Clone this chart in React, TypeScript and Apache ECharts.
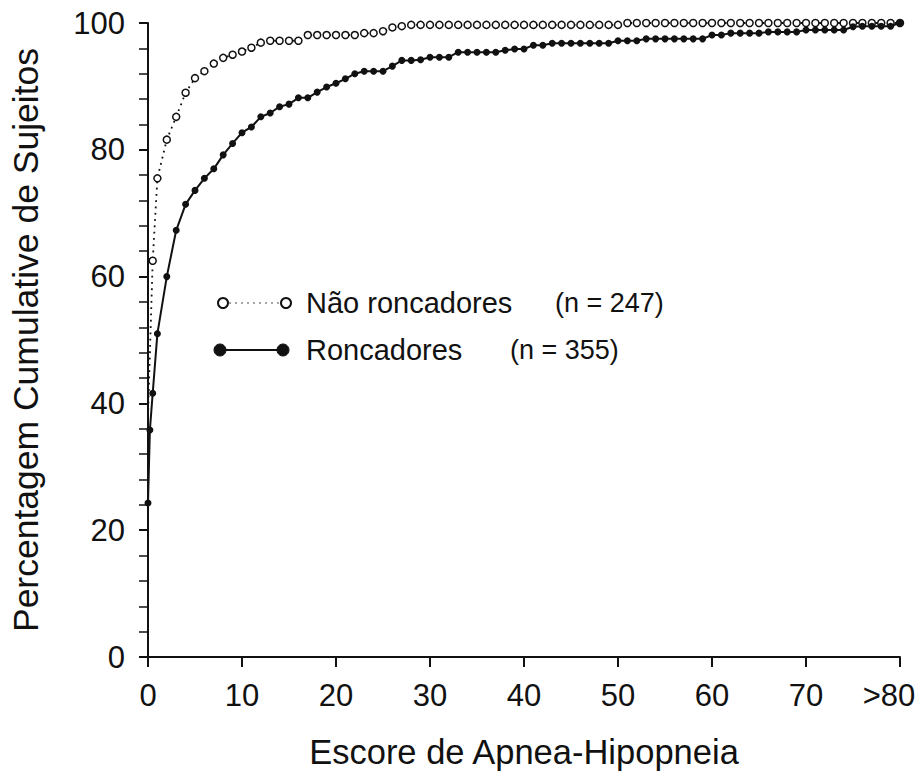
import React, { useEffect, useRef } from "react";
import * as echarts from "echarts";

// Escore de Apnea-Hipopneia (x) and cumulative percentage (y)
const naoRoncadoresX = [
  0, 0.5, 1, 2, 3, 4, 5, 6, 7, 8, 9, 10, 11, 12, 13, 14, 15, 16, 17, 18, 19, 20,
  21, 22, 23, 24, 25, 26, 27, 28, 29, 30, 31, 32, 33, 34, 35, 36, 37, 38, 39, 40,
  41, 42, 43, 44, 45, 46, 47, 48, 49, 50, 51, 52, 53, 54, 55, 56, 57, 58, 59, 60,
  61, 62, 63, 64, 65, 66, 67, 68, 69, 70, 71, 72, 73, 74, 75, 76, 77, 78, 79, 80,
];
const naoRoncadoresY = [
  38, 62.5, 75.5, 81.6, 85.2, 89, 91.3, 92.4, 93.6, 94.5, 95, 95.5, 96.1, 96.9, 97.2, 97.2, 97.2, 97.2, 98.1, 98.1, 98.1, 98.1,
  98.1, 98.1, 98.4, 98.4, 98.7, 99.3, 99.5, 99.7, 99.7, 99.7, 99.7, 99.7, 99.7, 99.7, 99.7, 99.7, 99.7, 99.7, 99.7, 99.7,
  99.7, 99.7, 99.7, 99.7, 99.7, 99.7, 99.7, 99.7, 99.7, 99.7, 100, 100, 100, 100, 100, 100, 100, 100, 100, 100,
  100, 100, 100, 100, 100, 100, 100, 100, 100, 100, 100, 100, 100, 100, 100, 100, 100, 100, 100, 100,
];

const roncadoresX = [
  0, 0.2, 0.5, 1, 2, 3, 4, 5, 6, 7, 8, 9, 10, 11, 12, 13, 14, 15, 16, 17, 18, 19, 20,
  21, 22, 23, 24, 25, 26, 27, 28, 29, 30, 31, 32, 33, 34, 35, 36, 37, 38, 39, 40,
  41, 42, 43, 44, 45, 46, 47, 48, 49, 50, 51, 52, 53, 54, 55, 56, 57, 58, 59, 60,
  61, 62, 63, 64, 65, 66, 67, 68, 69, 70, 71, 72, 73, 74, 75, 76, 77, 78, 79, 80,
];
const roncadoresY = [
  24.3, 35.8, 41.6, 51, 60, 67.3, 71.4, 73.6, 75.5, 77, 79.2, 81, 82.7, 83.6, 85.2, 85.8, 86.8, 87.2, 88.2, 88.2, 89.1, 89.9, 90.5,
  91.2, 92, 92.4, 92.4, 92.4, 93.2, 94.1, 94.1, 94.2, 94.6, 94.6, 94.6, 95.4, 95.4, 95.4, 95.4, 95.4, 95.7, 95.9, 95.9,
  96.5, 96.5, 96.8, 96.8, 96.8, 96.8, 96.8, 96.8, 96.8, 97.2, 97.2, 97.2, 97.5, 97.5, 97.5, 97.5, 97.5, 97.5, 97.5, 98.1,
  98.1, 98.4, 98.4, 98.4, 98.4, 98.6, 98.6, 98.6, 98.6, 98.9, 98.9, 98.9, 98.9, 98.9, 99.4, 99.5, 99.5, 99.5, 99.5, 100,
];

const xTicks = [0, 10, 20, 30, 40, 50, 60, 70, 80];
const xTickLabels = ["0", "10", "20", "30", "40", "50", "60", "70", ">80"];
const yTicks = [0, 20, 40, 60, 80, 100];

const seriesNames = ["Não roncadores", "Roncadores"];
const seriesN = ["(n = 247)", "(n = 355)"];

const FONT = "'Liberation Sans', Arial, Helvetica, sans-serif";
const INK = "#111";

export default function App() {
  const ref = useRef<HTMLDivElement>(null);

  useEffect(() => {
    if (!ref.current) return;
    document.body.style.margin = "0";
    const chart = echarts.init(ref.current, undefined, { renderer: "svg" });

    const openData = naoRoncadoresX.map((x, i) =>
      i === 0
        ? { value: [x, naoRoncadoresY[i]], symbol: "none" }
        : { value: [x, naoRoncadoresY[i]] }
    );
    const closedData = roncadoresX.map((x, i) => [x, roncadoresY[i]]);

    const labelFor = (v: number) => {
      const idx = xTicks.indexOf(v);
      if (idx < 0) return "";
      const t = xTickLabels[idx];
      return t.startsWith(">") ? "{gt|" + t + "}" : t;
    };

    chart.setOption({
      animation: false,
      backgroundColor: "#fff",
      grid: { left: 148, right: 22, top: 23, bottom: 121, containLabel: false },
      xAxis: {
        type: "value",
        min: 0,
        max: 80,
        interval: 10,
        name: "Escore de Apnea-Hipopneia",
        nameLocation: "middle",
        nameGap: 77,
        nameTextStyle: { fontFamily: FONT, fontSize: 34.5, color: INK },
        axisLine: { show: true, lineStyle: { color: INK, width: 2 } },
        axisTick: { show: true, inside: false, length: 10, lineStyle: { color: INK, width: 2 } },
        splitLine: { show: false },
        axisLabel: {
          margin: 23,
          fontFamily: FONT,
          fontSize: 31,
          color: INK,
          formatter: (v: number) => labelFor(v),
          rich: {
            gt: { fontFamily: FONT, fontSize: 31, color: INK, padding: [0, 22, 0, 0] },
          },
        },
      },
      yAxis: {
        type: "value",
        min: 0,
        max: 100,
        interval: 20,
        name: "Percentagem Cumulative de Sujeitos",
        nameLocation: "middle",
        nameGap: 104,
        nameTextStyle: { fontFamily: FONT, fontSize: 35.5, color: INK },
        axisLine: { show: true, lineStyle: { color: INK, width: 2 } },
        axisTick: { show: true, inside: false, length: 9, lineStyle: { color: INK, width: 2 } },
        minorTick: { show: true, splitNumber: 5, length: 9, lineStyle: { color: INK, width: 1.5 } },
        splitLine: { show: false },
        minorSplitLine: { show: false },
        axisLabel: {
          margin: 23,
          fontFamily: FONT,
          fontSize: 31,
          color: INK,
          formatter: (v: number) => (yTicks.indexOf(v) >= 0 ? String(v) : ""),
        },
      },
      series: [
        {
          name: seriesNames[0],
          type: "line",
          data: openData,
          symbol: "circle",
          symbolSize: 7,
          showAllSymbol: true,
          itemStyle: { color: "#fff", borderColor: INK, borderWidth: 1.5 },
          lineStyle: { color: INK, width: 1.8, type: [1.8, 4.5] },
          z: 2,
        },
        {
          name: seriesNames[1],
          type: "line",
          data: closedData,
          symbol: "circle",
          symbolSize: 7,
          showAllSymbol: true,
          itemStyle: { color: INK, borderColor: INK, borderWidth: 0 },
          lineStyle: { color: INK, width: 2 },
          z: 3,
        },
      ],
      graphic: [
        { type: "line", shape: { x1: 229, y1: 303, x2: 280, y2: 303 }, style: { stroke: "#888", lineWidth: 1.5, lineDash: [2, 4] }, z: 10 },
        { type: "circle", shape: { cx: 223, cy: 303, r: 5 }, style: { fill: "#fff", stroke: INK, lineWidth: 2 }, z: 10 },
        { type: "circle", shape: { cx: 286, cy: 303, r: 5 }, style: { fill: "#fff", stroke: INK, lineWidth: 2 }, z: 10 },
        { type: "text", x: 306, y: 303, style: { text: seriesNames[0], font: `29px ${FONT}`, fill: INK, verticalAlign: "middle", align: "left" }, z: 10 },
        { type: "text", x: 555, y: 303, style: { text: seriesN[0], font: `27px ${FONT}`, fill: INK, verticalAlign: "middle", align: "left" }, z: 10 },
        { type: "line", shape: { x1: 220, y1: 350, x2: 283, y2: 350 }, style: { stroke: INK, lineWidth: 2 }, z: 10 },
        { type: "circle", shape: { cx: 220, cy: 350, r: 6 }, style: { fill: INK, stroke: INK, lineWidth: 1 }, z: 10 },
        { type: "circle", shape: { cx: 283, cy: 350, r: 6 }, style: { fill: INK, stroke: INK, lineWidth: 1 }, z: 10 },
        { type: "text", x: 306, y: 350, style: { text: seriesNames[1], font: `29px ${FONT}`, fill: INK, verticalAlign: "middle", align: "left" }, z: 10 },
        { type: "text", x: 510, y: 350, style: { text: seriesN[1], font: `27px ${FONT}`, fill: INK, verticalAlign: "middle", align: "left" }, z: 10 },
      ],
    });

    return () => chart.dispose();
  }, []);

  return <div ref={ref} style={{ width: 922, height: 778 }} />;
}
